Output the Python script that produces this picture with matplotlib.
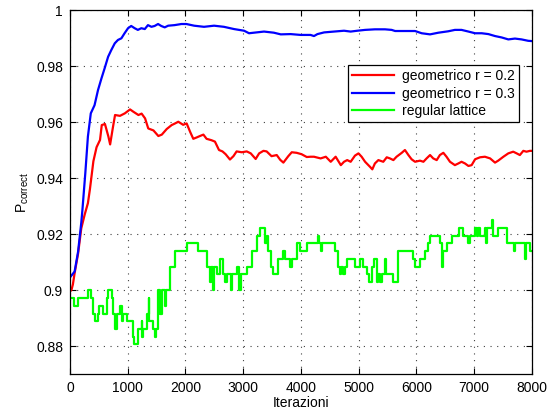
import numpy as np
import matplotlib.pyplot as plt

plt.rcParams['font.family'] = ['Liberation Sans', 'DejaVu Sans']
plt.rcParams['mathtext.fontset'] = 'custom'
plt.rcParams['mathtext.rm'] = 'Liberation Sans'

# geometric graph, r = 0.2
iters_r02 = [0, 25, 50, 80, 140, 195, 255, 310, 345, 405, 460, 520, 550, 605, 665, 695,
             740, 780, 865, 950, 1040, 1095, 1185, 1240, 1300, 1355, 1445, 1530, 1590,
             1675, 1760, 1820, 1875, 1960, 2020, 2080, 2135, 2195, 2250, 2310, 2365,
             2450, 2510, 2580, 2640, 2695, 2770, 2830, 2885, 2975, 3060, 3130, 3215,
             3275, 3350, 3405, 3490, 3580, 3640, 3695, 3780, 3840, 3925, 4010, 4100,
             4165, 4225, 4340, 4430, 4515, 4600, 4690, 4745, 4800, 4860, 4935, 4995,
             5050, 5110, 5195, 5235, 5280, 5340, 5425, 5485, 5540, 5600, 5655, 5745,
             5800, 5860, 5915, 5975, 6060, 6120, 6175, 6235, 6290, 6350, 6405, 6465,
             6520, 6580, 6665, 6725, 6780, 6840, 6900, 6955, 7015, 7100, 7185, 7275,
             7360, 7415, 7505, 7590, 7675, 7735, 7790, 7850, 7905, 7965, 8000]
p_r02 = [0.8995, 0.9000, 0.9020, 0.9060, 0.9130, 0.9220, 0.9270, 0.9310, 0.9360, 0.9460,
         0.9510, 0.9536, 0.9589, 0.9593, 0.9548, 0.9520, 0.9577, 0.9625, 0.9622, 0.9631,
         0.9645, 0.9637, 0.9625, 0.9630, 0.9613, 0.9577, 0.9570, 0.9550, 0.9555, 0.9575,
         0.9589, 0.9595, 0.9601, 0.9590, 0.9595, 0.9565, 0.9540, 0.9545, 0.9550, 0.9555,
         0.9540, 0.9535, 0.9530, 0.9500, 0.9495, 0.9485, 0.9466, 0.9478, 0.9495, 0.9492,
         0.9495, 0.9488, 0.9468, 0.9488, 0.9497, 0.9495, 0.9478, 0.9482, 0.9465, 0.9455,
         0.9478, 0.9492, 0.9490, 0.9485, 0.9475, 0.9476, 0.9476, 0.9470, 0.9476, 0.9458,
         0.9476, 0.9446, 0.9458, 0.9464, 0.9458, 0.9480, 0.9488, 0.9476, 0.9458, 0.9440,
         0.9431, 0.9452, 0.9464, 0.9458, 0.9474, 0.9470, 0.9464, 0.9476, 0.9490, 0.9500,
         0.9482, 0.9467, 0.9458, 0.9462, 0.9458, 0.9470, 0.9482, 0.9470, 0.9464, 0.9482,
         0.9490, 0.9476, 0.9458, 0.9446, 0.9452, 0.9458, 0.9452, 0.9443, 0.9446, 0.9467,
         0.9474, 0.9476, 0.9470, 0.9455, 0.9462, 0.9476, 0.9488, 0.9494, 0.9488, 0.9482,
         0.9497, 0.9494, 0.9497, 0.9497]

# geometric graph, r = 0.3
iters_r03 = [0, 80, 140, 195, 215, 265, 310, 360, 425, 485, 545, 600, 660, 715, 775, 830,
             890, 945, 1005, 1060, 1120, 1175, 1235, 1295, 1350, 1410, 1465, 1525, 1580,
             1640, 1700, 1810, 1930, 2015, 2150, 2320, 2495, 2665, 2840, 3015, 3100,
             3185, 3360, 3530, 3650, 3820, 3995, 4165, 4225, 4285, 4400, 4570, 4745,
             4860, 4975, 5110, 5280, 5455, 5570, 5630, 5800, 5975, 6090, 6235, 6380,
             6550, 6665, 6780, 6900, 7015, 7130, 7245, 7360, 7475, 7590, 7705, 7820,
             7935, 8000]
p_r03 = [0.9045, 0.9066, 0.9137, 0.9240, 0.9286, 0.9417, 0.9548, 0.9631, 0.9660, 0.9714,
         0.9756, 0.9792, 0.9833, 0.9857, 0.9881, 0.9893, 0.9899, 0.9917, 0.9935, 0.9943,
         0.9935, 0.9929, 0.9935, 0.9932, 0.9946, 0.9940, 0.9943, 0.9950, 0.9943, 0.9938,
         0.9944, 0.9946, 0.9950, 0.9950, 0.9944, 0.9940, 0.9944, 0.9940, 0.9932, 0.9926,
         0.9917, 0.9919, 0.9923, 0.9919, 0.9913, 0.9914, 0.9911, 0.9911, 0.9907, 0.9914,
         0.9920, 0.9923, 0.9926, 0.9923, 0.9926, 0.9929, 0.9931, 0.9931, 0.9929, 0.9925,
         0.9925, 0.9925, 0.9917, 0.9913, 0.9919, 0.9924, 0.9929, 0.9929, 0.9923, 0.9917,
         0.9917, 0.9914, 0.9907, 0.9902, 0.9895, 0.9898, 0.9895, 0.9890, 0.9889]

# regular lattice (piecewise constant)
iters_lat = [0, 69, 144, 317, 358, 404, 430, 491, 508, 577, 635, 664, 721, 750, 779, 808,
             866, 895, 923, 981, 1097, 1108, 1183, 1241, 1250, 1270, 1328, 1362, 1375,
             1443, 1472, 1490, 1518, 1558, 1587, 1645, 1662, 1731, 1818, 2020, 2222,
             2366, 2424, 2440, 2482, 2500, 2540, 2598, 2655, 2690, 2713, 2788, 2805,
             2886, 2932, 2955, 3059, 3146, 3233, 3290, 3377, 3406, 3435, 3480, 3521,
             3608, 3694, 3723, 3810, 3838, 3925, 3983, 4098, 4300, 4318, 4341, 4364,
             4589, 4647, 4670, 4690, 4720, 4760, 4791, 4935, 5022, 5079, 5137, 5183,
             5224, 5270, 5310, 5339, 5368, 5400, 5455, 5472, 5599, 5685, 5945, 5975,
             6061, 6147, 6205, 6234, 6407, 6436, 6465, 6522, 6609, 6742, 6811, 6898,
             6926, 7013, 7040, 7071, 7100, 7186, 7205, 7215, 7302, 7330, 7417, 7561,
             7690, 7706, 7880, 7900, 7970, 8000]
p_lat = [0.8972, 0.8944, 0.8972, 0.9000, 0.8972, 0.8916, 0.8889, 0.8916, 0.8944, 0.8916,
         0.8972, 0.9000, 0.8972, 0.8916, 0.8861, 0.8916, 0.8944, 0.8889, 0.8916, 0.8889,
         0.8833, 0.8806, 0.8861, 0.8889, 0.8833, 0.8861, 0.8916, 0.8972, 0.8889, 0.8861,
         0.8833, 0.8861, 0.9000, 0.8916, 0.9000, 0.8944, 0.9000, 0.9083, 0.9139, 0.9167,
         0.9139, 0.9083, 0.9028, 0.9083, 0.9000, 0.9083, 0.9056, 0.9111, 0.9056, 0.9028,
         0.9056, 0.9000, 0.9056, 0.9083, 0.9000, 0.9056, 0.9083, 0.9139, 0.9194, 0.9222,
         0.9167, 0.9194, 0.9139, 0.9083, 0.9056, 0.9111, 0.9139, 0.9111, 0.9083, 0.9111,
         0.9167, 0.9139, 0.9167, 0.9194, 0.9167, 0.9139, 0.9167, 0.9139, 0.9083, 0.9056,
         0.9083, 0.9056, 0.9083, 0.9111, 0.9083, 0.9111, 0.9083, 0.9056, 0.9028, 0.9083,
         0.9111, 0.9028, 0.9056, 0.9028, 0.9056, 0.9111, 0.9056, 0.9028, 0.9139, 0.9111,
         0.9083, 0.9111, 0.9139, 0.9167, 0.9194, 0.9167, 0.9083, 0.9139, 0.9167, 0.9194,
         0.9222, 0.9194, 0.9167, 0.9194, 0.9222, 0.9194, 0.9222, 0.9194, 0.9222, 0.9167,
         0.9222, 0.9250, 0.9194, 0.9222, 0.9167, 0.9139, 0.9167, 0.9111, 0.9167, 0.9139,
         0.9139]

x_ticks = np.arange(0, 8001, 1000)
y_ticks = [0.88, 0.9, 0.92, 0.94, 0.96, 0.98, 1.0]

fig = plt.figure(figsize=(5.56, 4.12), dpi=100)
ax = fig.add_axes([0.1259, 0.0922, 0.8309, 0.8835])

ax.plot(iters_r02, p_r02, color=(1, 0, 0), lw=1.6, label='geometrico r = 0.2')
ax.plot(iters_r03, p_r03, color=(0, 0, 1), lw=1.6, label='geometrico r = 0.3')
ax.plot(iters_lat, p_lat, color=(0, 1, 0), lw=1.6, drawstyle='steps-post',
        label='regular lattice')

ax.set_xlim(0, 8000)
ax.set_ylim(0.87, 1.0)
ax.set_xticks(x_ticks)
ax.set_yticks(y_ticks)
ax.set_yticklabels(['%g' % v for v in y_ticks])
ax.tick_params(direction='in', length=4, width=0.8, top=True, right=True,
               labelsize=10, pad=5)
for s in ax.spines.values():
    s.set_linewidth(0.9)

ax.grid(True, color='0.25', linestyle=(0, (1, 5)), linewidth=0.8)

ax.set_xlabel('Iterazioni', fontsize=10, labelpad=1)
ax.set_ylabel(r'$\mathrm{P_{correct}}$', fontsize=10, labelpad=4)

leg = ax.legend(loc='upper right', bbox_to_anchor=(0.987, 0.868), fontsize=10,
                fancybox=False, framealpha=1, edgecolor='k', handlelength=3.0,
                borderpad=0.3, labelspacing=0.25, handletextpad=0.6)
leg.get_frame().set_linewidth(0.9)

fig.savefig('out.png', dpi=100)
